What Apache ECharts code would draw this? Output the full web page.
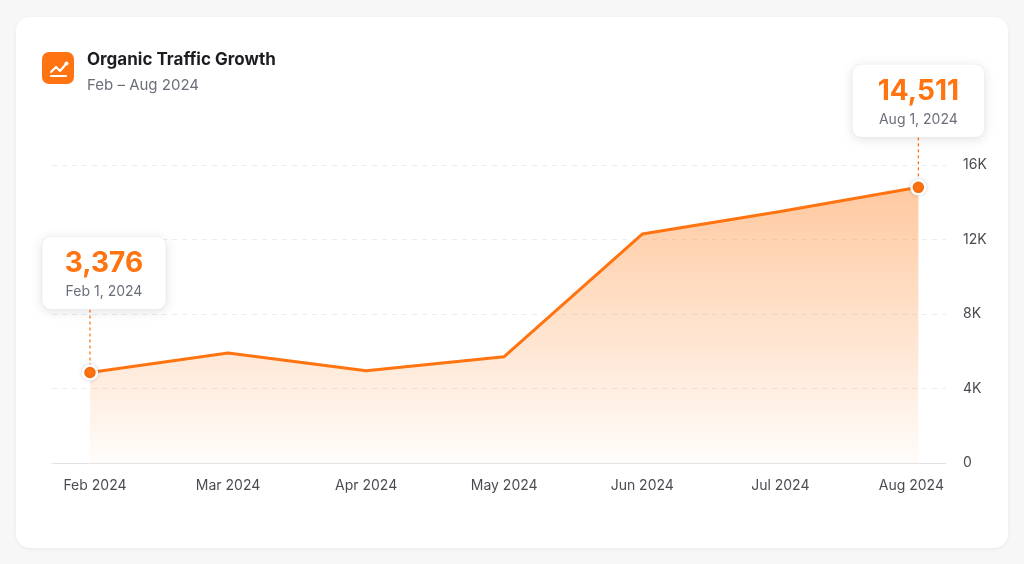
<!DOCTYPE html>
<html>
<head>
<meta charset="utf-8">
<title>Organic Traffic Growth</title>
<script src="https://cdn.jsdelivr.net/npm/echarts@6/dist/echarts.min.js"></script>
<style>
  html, body { margin: 0; padding: 0; background: #f7f7f8; }
  #card {
    position: absolute; left: 16px; top: 17px; width: 992px; height: 531px;
    background: #fff; border-radius: 14px;
    box-shadow: 0 1px 4px rgba(0,0,0,0.06);
  }
  #chart { position: absolute; left: 0; top: 0; width: 1024px; height: 564px; }
</style>
</head>
<body>
<div id="card"></div>
<div id="chart"></div>
<script>
    var months = ['Feb 2024', 'Mar 2024', 'Apr 2024', 'May 2024', 'Jun 2024', 'Jul 2024', 'Aug 2024'];
    var traffic = [4860, 5910, 4950, 5710, 12290, 13500, 14800];   // values
    var yTicks = [0, 4000, 8000, 12000, 16000];
    var yTickLabels = ['0', '4K', '8K', '12K', '16K'];
    // the two callouts on the chart
    var callIdx = [0, 6];
    var callValue = ['3,376', '14,511'];
    var callDate = ['Feb 1, 2024', 'Aug 1, 2024'];

    var orange = '#ff7410';
    var font = 'Inter, "Noto Sans", sans-serif';

var points = [];
for (var i = 0; i < months.length; i++) {
    points.push([i, traffic[i]]);
}

var myChart = echarts.init(document.getElementById('chart'), null, {renderer: 'canvas'});

var option = {
    animation: false,
    textStyle: { fontFamily: font },
    grid: { left: 52, right: 78, top: 165, bottom: 101 },
    xAxis: {
        type: 'value',
        min: -0.275,
        max: 6.2,
        axisLine: { show: true, lineStyle: { color: '#e3e3e6', width: 1 } },
        axisTick: { show: false },
        splitLine: { show: false },
        axisLabel: {
            customValues: [0, 1, 2, 3, 4, 5, 6],
            formatter: function (v) {
                var n = Math.round(v);
                if (n === 0) return '{first|' + months[n] + '}';
                if (n === months.length - 1) return '{last|' + months[n] + '}';
                return months[n];
            },
            rich: {
                first: { padding: [0, 0, 0, 10], fontSize: 14, color: '#4b4b52' },
                last: { padding: [0, 14, 0, 0], fontSize: 14, color: '#4b4b52' }
            },
            color: '#4b4b52', fontSize: 14, margin: 16, fontFamily: font
        }
    },
    yAxis: {
        type: 'value',
        position: 'right',
        min: 0,
        max: 16000,
        interval: 4000,
        axisLine: { show: false },
        axisTick: { show: false },
        splitLine: { lineStyle: { color: '#ececef', type: [5, 5], width: 1 } },
        axisLabel: {
            color: '#4b4b52', fontSize: 14, margin: 17, fontFamily: font,
            formatter: function (v) { return yTickLabels[yTicks.indexOf(v)]; }
        }
    },
    series: [{
        type: 'line',
        data: points,
        symbol: 'circle',
        symbolSize: function (val, p) { return callIdx.indexOf(p.dataIndex) >= 0 ? 14 : 0; },
        showSymbol: true,
        itemStyle: { color: orange, borderColor: '#fff', borderWidth: 2.5,
                     shadowColor: 'rgba(0,0,0,0.15)', shadowBlur: 4 },
        lineStyle: { color: orange, width: 3 },
        areaStyle: {
            color: new echarts.graphic.LinearGradient(0, 0, 0, 1, [
                { offset: 0, color: 'rgba(255,130,35,0.62)' },
                { offset: 1, color: 'rgba(255,130,35,0.03)' }
            ])
        },
        z: 3
    }]
};
myChart.setOption(option);

// header + callouts, placed through the chart's own scales
function drawExtras() {
    var g = [];
    // icon
    g.push({
        type: 'rect', left: 42, top: 52,
        shape: { width: 32, height: 32, r: 7 },
        style: { fill: '#ff7410' }
    });
    g.push({
        type: 'polyline', x: 42, y: 52,
        shape: { points: [[9, 20], [14, 15], [18, 19], [24, 12]] },
        style: { stroke: '#fff', lineWidth: 2.2, fill: null, lineJoin: 'round', lineCap: 'round' }
    });
    g.push({
        type: 'line', x: 42, y: 52,
        shape: { x1: 9, y1: 24, x2: 24, y2: 24 },
        style: { stroke: '#fff', lineWidth: 2.2, lineCap: 'round' }
    });
    g.push({
        type: 'circle', x: 42, y: 52,
        shape: { cx: 24.5, cy: 11.5, r: 2 },
        style: { fill: '#fff' }
    });
    g.push({
        type: 'text', left: 87, top: 51,
        style: { text: 'Organic Traffic Growth', fill: '#1c1c22', font: 'bold 17px ' + font }
    });
    g.push({
        type: 'text', left: 87, top: 78,
        style: { text: 'Feb \u2013 Aug 2024', fill: '#6b6f7a', font: '15px ' + font }
    });

    var boxW = [124, 132], boxH = 73, gap = [63, 50];
    for (var k = 0; k < callIdx.length; k++) {
        var p = myChart.convertToPixel({ gridIndex: 0 }, [callIdx[k], traffic[callIdx[k]]]);
        var bw = boxW[k];
        var bx = Math.max(42, p[0] - bw / 2);
        var bottom = p[1] - gap[k];
        var by = bottom - boxH;
        g.push({
            type: 'line', z: 1,
            shape: { x1: p[0], y1: bottom, x2: p[0], y2: p[1] - 6 },
            style: { stroke: orange, lineWidth: 1.3, lineDash: [3, 3] }
        });
        g.push({
            type: 'rect', z: 10,
            shape: { x: bx, y: by, width: bw, height: boxH, r: 9 },
            style: { fill: '#fff', shadowColor: 'rgba(0,0,0,0.12)', shadowBlur: 12, shadowOffsetY: 2,
                     stroke: 'rgba(0,0,0,0.04)', lineWidth: 1 }
        });
        g.push({
            type: 'text', z: 11,
            x: bx + bw / 2, y: by + 27,
            style: { text: callValue[k], fill: orange, font: 'bold 28px ' + font,
                     align: 'center', verticalAlign: 'middle' }
        });
        g.push({
            type: 'text', z: 11,
            x: bx + bw / 2, y: by + 55,
            style: { text: callDate[k], fill: '#6b6f7a', font: '14px ' + font,
                     align: 'center', verticalAlign: 'middle' }
        });
    }
    myChart.setOption({ graphic: g });
}
drawExtras();
</script>
</body>
</html>
